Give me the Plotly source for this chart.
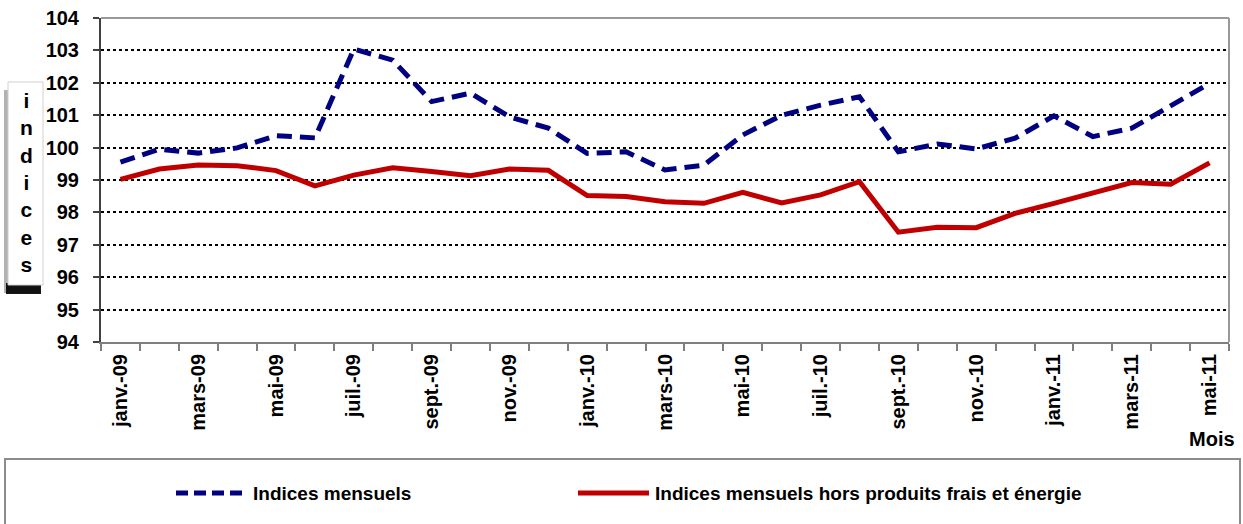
import plotly.graph_objects as go

months = ["janv.-09", "févr.-09", "mars-09", "avr.-09", "mai-09", "juin-09",
          "juil.-09", "août-09", "sept.-09", "oct.-09", "nov.-09", "déc.-09",
          "janv.-10", "févr.-10", "mars-10", "avr.-10", "mai-10", "juin-10",
          "juil.-10", "août-10", "sept.-10", "oct.-10", "nov.-10", "déc.-10",
          "janv.-11", "févr.-11", "mars-11", "avr.-11", "mai-11"]

indices_mensuels = [99.55, 99.95, 99.83, 99.99, 100.37, 100.30, 103.04, 102.70,
                    101.42, 101.68, 100.95, 100.60, 99.82, 99.87, 99.31, 99.46,
                    100.39, 101.00, 101.31, 101.57, 99.87, 100.11, 99.96, 100.29,
                    100.98, 100.34, 100.60, 101.31, 101.98]

indices_hors_frais = [99.02, 99.34, 99.46, 99.44, 99.29, 98.82, 99.15, 99.38,
                      99.26, 99.13, 99.34, 99.30, 98.52, 98.49, 98.33, 98.28,
                      98.62, 98.29, 98.54, 98.95, 97.39, 97.54, 97.53, 97.97,
                      98.28, 98.61, 98.92, 98.87, 99.53]

y_ticks = list(range(94, 105))

series_names = ["Indices mensuels", "Indices mensuels hors produits frais et énergie"]

x_idx = list(range(len(months)))
label_idx = x_idx[::2]
label_txt = [months[i] for i in label_idx]

W, H = 1243, 524
L, R, T, B = 101, 14, 18, 182
PW, PH = W - L - R, H - T - B


def px_x(p):
    return (p - L) / PW


def px_y(p):
    return (H - B - p) / PH


FONT = "Liberation Sans, Arial, sans-serif"
BLUE = "#000080"
RED = "#C00000"

fig = go.Figure()
fig.add_trace(go.Scatter(x=x_idx, y=indices_hors_frais, mode="lines",
                         name=series_names[1],
                         line=dict(color=RED, width=5), showlegend=False))
fig.add_trace(go.Scatter(x=x_idx, y=indices_mensuels, mode="lines",
                         name=series_names[0],
                         line=dict(color=BLUE, width=5, dash="15px,8px"),
                         showlegend=False))

shapes = []
# plot frame top/right
shapes.append(dict(type="line", xref="paper", yref="paper", x0=0, x1=1, y0=1, y1=1,
                   line=dict(color="#999999", width=2), layer="above"))
shapes.append(dict(type="line", xref="paper", yref="paper", x0=1, x1=1, y0=0, y1=1,
                   line=dict(color="#999999", width=2), layer="above"))
# legend box
shapes.append(dict(type="rect", xref="paper", yref="paper",
                   x0=px_x(5), x1=px_x(1240), y0=px_y(530), y1=px_y(459),
                   line=dict(color="#8c8c8c", width=2), fillcolor="white", layer="below"))
# legend samples
shapes.append(dict(type="line", xref="paper", yref="paper",
                   x0=px_x(176), x1=px_x(248), y0=px_y(493), y1=px_y(493),
                   line=dict(color=BLUE, width=5, dash="12px,6px")))
shapes.append(dict(type="line", xref="paper", yref="paper",
                   x0=px_x(578), x1=px_x(649), y0=px_y(493), y1=px_y(493),
                   line=dict(color=RED, width=5)))
# y-title box shadow and box
shapes.append(dict(type="rect", xref="paper", yref="paper",
                   x0=px_x(4), x1=px_x(40), y0=px_y(293), y1=px_y(90),
                   line=dict(width=0), fillcolor="rgba(0,0,0,0.3)", layer="below"))
shapes.append(dict(type="rect", xref="paper", yref="paper",
                   x0=px_x(6), x1=px_x(41), y0=px_y(294), y1=px_y(283),
                   line=dict(width=0), fillcolor="rgba(0,0,0,0.9)", layer="below"))
shapes.append(dict(type="rect", xref="paper", yref="paper",
                   x0=px_x(8), x1=px_x(43), y0=px_y(285), y1=px_y(82),
                   line=dict(color="#d0d0d0", width=1), fillcolor="white", layer="below"))

annotations = [
    dict(text="<br>".join(list("indices")), xref="paper", yref="paper",
         x=px_x(26), y=px_y(182), xanchor="center", yanchor="middle",
         showarrow=False, font=dict(family=FONT, size=21, color="black", weight="bold")),
    dict(text="Mois", xref="paper", yref="paper", x=px_x(1237), y=px_y(439),
         xanchor="right", yanchor="middle", showarrow=False,
         font=dict(family=FONT, size=20, color="black", weight="bold")),
    dict(text=series_names[0], xref="paper", yref="paper", x=px_x(251), y=px_y(493),
         xanchor="left", yanchor="middle", showarrow=False,
         font=dict(family=FONT, size=19, color="black", weight="bold")),
    dict(text=series_names[1], xref="paper", yref="paper", x=px_x(653), y=px_y(493),
         xanchor="left", yanchor="middle", showarrow=False,
         font=dict(family=FONT, size=19, color="black", weight="bold")),
]

fig.update_layout(
    width=W, height=H,
    margin=dict(l=L, r=R, t=T, b=B, pad=0, autoexpand=False),
    paper_bgcolor="white", plot_bgcolor="white",
    shapes=shapes, annotations=annotations,
    showlegend=False,
)
fig.update_xaxes(
    range=[-0.5, len(months) - 0.5], tickmode="array",
    tickvals=label_idx, ticktext=label_txt, tickangle=-90,
    ticks="", ticklen=0, showgrid=False, zeroline=False, automargin=False,
    showline=True, linecolor="#7f7f7f", linewidth=2,
    ticklabelstandoff=2,
    tickfont=dict(family=FONT, size=20, color="black", weight="bold"),
    minor=dict(tickmode="linear", tick0=-0.5, dtick=1, ticks="outside",
               ticklen=7, tickcolor="#7f7f7f", tickwidth=1.5, showgrid=False),
)
fig.update_yaxes(
    range=[94, 104], tickmode="array", tickvals=y_ticks,
    ticks="outside", ticklen=6, tickcolor="#404040", tickwidth=1.5,
    showgrid=True, gridcolor="black", gridwidth=1.5, griddash="dot",
    zeroline=False, showline=True, linecolor="#404040", linewidth=2,
    automargin=False, ticklabelstandoff=10,
    tickfont=dict(family=FONT, size=20, color="black", weight="bold"),
)

fig.write_html("out.html", config={"displayModeBar": False},
               post_script="document.body.style.margin='0';document.body.style.overflow='hidden';")
